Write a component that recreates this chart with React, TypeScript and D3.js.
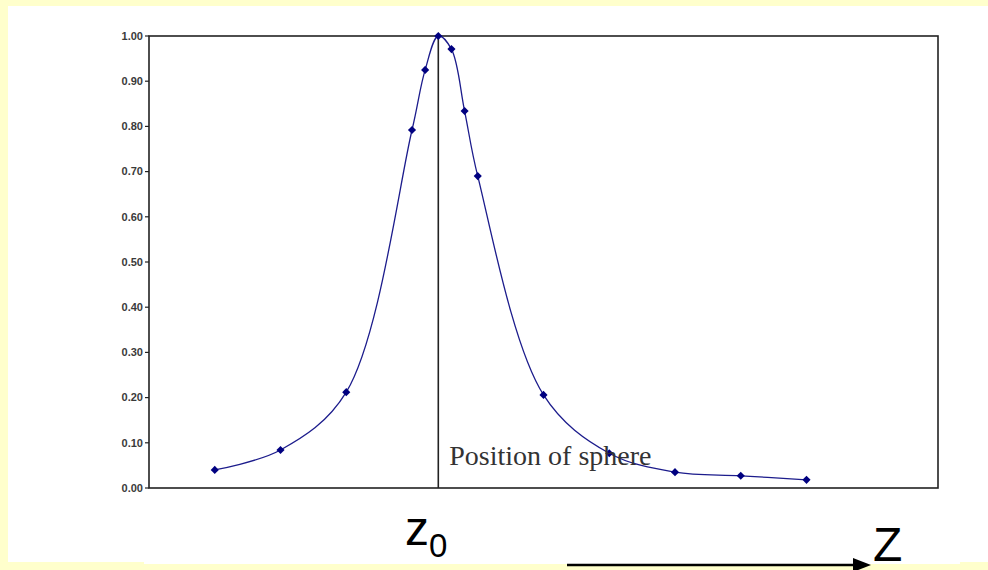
import React from 'react';
import * as d3 from 'd3';

// z positions (arbitrary units, sphere centre at 3.4) and normalised signal
const zPositions = [0, 1, 2, 3, 3.2, 3.4, 3.6, 3.8, 4, 5, 6, 7, 8, 9];
const intensity = [0.040, 0.084, 0.212, 0.792, 0.925, 1.0, 0.971, 0.834, 0.690, 0.206, 0.077, 0.035, 0.027, 0.018];
const yTicks = [0, 0.1, 0.2, 0.3, 0.4, 0.5, 0.6, 0.7, 0.8, 0.9, 1.0];
const spherePos = 3.4;
const sphereLabel = 'Position of sphere';

const W = 988;
const H = 570;
const plot = { left: 149, right: 938, top: 36, bottom: 488 };

export default function App() {
  const x = d3.scaleLinear().domain([-1, 11]).range([plot.left, plot.right]);
  const y = d3.scaleLinear().domain([0, 1]).range([plot.bottom, plot.top]);

  const points = zPositions.map((z, i) => ({ z, v: intensity[i] }));
  const line = d3.line<{ z: number; v: number }>()
    .x(d => x(d.z))
    .y(d => y(d.v))
    .curve(d3.curveCatmullRom.alpha(0.5));

  const diamond = d3.symbol().type(d3.symbolDiamond2).size(42)();
  const fmt = d3.format('.2f');

  return (
    <svg width={W} height={H} style={{ position: 'absolute', left: 0, top: 0 }}>
      <rect x={0} y={0} width={W} height={H} fill="#ffffcc" />
      <rect x={8} y={6} width={W - 8} height={556} fill="#ffffff" />
      <rect x={144} y={560} width={816} height={4} fill="#ffffff" />

      {/* y axis ticks + labels */}
      <g>
        {yTicks.map(t => (
          <g key={t} transform={`translate(0,${y(t)})`}>
            <line x1={plot.left - 4} x2={plot.left} stroke="#222" strokeWidth={1.2} />
            <text x={plot.left - 6} dy="0.35em" textAnchor="end" fontFamily="Liberation Sans, Arial, sans-serif"
              fontSize={11} fontWeight="bold" fill="#3a3a3a">{fmt(t)}</text>
          </g>
        ))}
      </g>

      {/* frame */}
      <rect x={plot.left} y={plot.top} width={plot.right - plot.left} height={plot.bottom - plot.top}
        fill="none" stroke="#222" strokeWidth={1.6} />

      {/* sphere position marker */}
      <line x1={x(spherePos)} x2={x(spherePos)} y1={plot.top} y2={plot.bottom} stroke="#222" strokeWidth={1.6} />

      <path d={line(points) || ''} fill="none" stroke="#1c1c8c" strokeWidth={1.3} />
      {points.map((d, i) => (
        <path key={i} d={diamond || ''} transform={`translate(${x(d.z)},${y(d.v)})`} fill="#000080" />
      ))}

      <text x={x(spherePos) + 11} y={465} fontFamily="Liberation Serif, Times New Roman, serif" fontSize={28}
        fill="#333">{sphereLabel}</text>

      {/* z0 label */}
      <text x={405} y={545} fontFamily="Liberation Sans, Arial, sans-serif" fontSize={48} fill="#000">
        z<tspan fontSize={33} dy={12}>0</tspan>
      </text>

      {/* Z arrow */}
      <line x1={567} x2={858} y1={565} y2={565} stroke="#000" strokeWidth={2.5} />
      <path d="M853,558 L871,565 L853,572 Z" fill="#000" />
      <text x={873} y={561} fontFamily="Liberation Sans, Arial, sans-serif" fontSize={48} fill="#000">Z</text>
    </svg>
  );
}
